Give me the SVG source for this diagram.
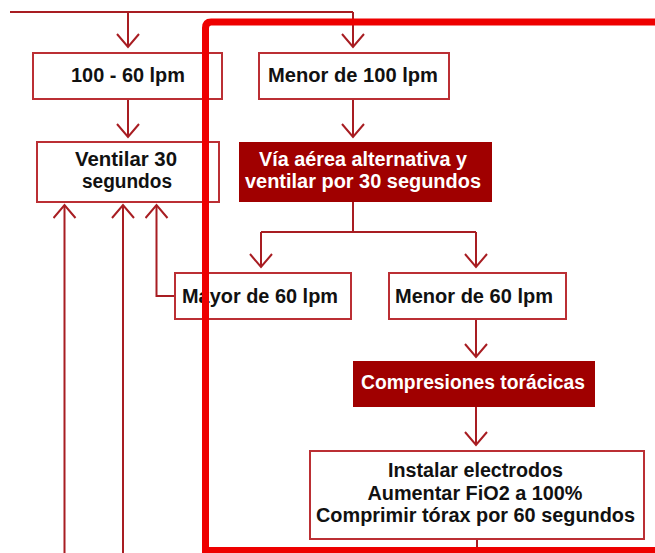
<svg xmlns="http://www.w3.org/2000/svg" width="655" height="553" viewBox="0 0 655 553">
<style>
.box{fill:#ffffff;stroke:#bb2f34;stroke-width:2}
.dark{fill:#a00000;stroke:none}
.t{font-family:"Liberation Sans",Arial,sans-serif;font-weight:bold;font-size:20px;fill:#111111;text-anchor:middle}
.w{fill:#ffffff}
.c{fill:none;stroke:#a81d22;stroke-width:2}
.frame{fill:none;stroke:#ee0000;stroke-width:7}
</style>
<defs>
<marker id="ah" markerUnits="userSpaceOnUse" viewBox="-14 -12 16 24" refX="0" refY="0" markerWidth="16" markerHeight="24" orient="auto">
<path d="M-13,-11 L0,0 L-13,11" fill="none" stroke="#a81d22" stroke-width="2"/>
</marker>
</defs>
<rect width="655" height="553" fill="#ffffff"/>
<g id="connectors">
<path class="c" d="M10,12 L353,12"/>
<path class="c" d="M128,12 L128,47" marker-end="url(#ah)"/>
<path class="c" d="M353,12 L353,47" marker-end="url(#ah)"/>
<path class="c" d="M128,99 L128,137" marker-end="url(#ah)"/>
<path class="c" d="M353,99 L353,137" marker-end="url(#ah)"/>
<path class="c" d="M353,202 L353,232"/>
<path class="c" d="M261,232 L476,232"/>
<path class="c" d="M261,232 L261,267" marker-end="url(#ah)"/>
<path class="c" d="M476,232 L476,267" marker-end="url(#ah)"/>
<path class="c" d="M476,319 L476,357" marker-end="url(#ah)"/>
<path class="c" d="M476,407 L476,445" marker-end="url(#ah)"/>
<path class="c" d="M477,539 L477,551"/>
<path class="c" d="M175,296 L156.5,296 L156.5,205" marker-end="url(#ah)"/>
<path class="c" d="M64.5,553 L64.5,205" marker-end="url(#ah)"/>
<path class="c" d="M123,553 L123,205" marker-end="url(#ah)"/>
</g>
<g id="n100-60">
<rect class="box" x="33" y="53" width="189" height="46"/>
<text class="t" x="128" y="82" textLength="114" lengthAdjust="spacingAndGlyphs">100 - 60 lpm</text>
</g>
<g id="menor100">
<rect class="box" x="259" y="53" width="190" height="46"/>
<text class="t" x="353" y="82" textLength="170" lengthAdjust="spacingAndGlyphs">Menor de 100 lpm</text>
</g>
<g id="ventilar30">
<rect class="box" x="37" y="142" width="182" height="60"/>
<text class="t" x="126" y="166" textLength="102" lengthAdjust="spacingAndGlyphs">Ventilar 30</text>
<text class="t" x="127" y="188" textLength="90" lengthAdjust="spacingAndGlyphs">segundos</text>
</g>
<g id="viaaerea">
<rect class="dark" x="239" y="142" width="253" height="60"/>
<text class="t w" x="363" y="166" textLength="208" lengthAdjust="spacingAndGlyphs">Vía aérea alternativa y</text>
<text class="t w" x="363" y="188" textLength="236" lengthAdjust="spacingAndGlyphs">ventilar por 30 segundos</text>
</g>
<g id="mayor60">
<rect class="box" x="175" y="273" width="176" height="46"/>
<text class="t" x="260" y="303" textLength="156" lengthAdjust="spacingAndGlyphs">Mayor de 60 lpm</text>
</g>
<g id="menor60">
<rect class="box" x="389" y="273" width="177" height="46"/>
<text class="t" x="474" y="303" textLength="158" lengthAdjust="spacingAndGlyphs">Menor de 60 lpm</text>
</g>
<g id="compresiones">
<rect class="dark" x="353" y="361" width="242" height="46"/>
<text class="t w" x="473" y="389" textLength="224" lengthAdjust="spacingAndGlyphs">Compresiones torácicas</text>
</g>
<g id="instalar">
<rect class="box" x="310" y="451" width="334" height="88"/>
<text class="t" x="475.5" y="477" textLength="175" lengthAdjust="spacingAndGlyphs">Instalar electrodos</text>
<text class="t" x="475" y="500" textLength="215" lengthAdjust="spacingAndGlyphs">Aumentar FiO2 a 100%</text>
<text class="t" x="475.5" y="522" textLength="319" lengthAdjust="spacingAndGlyphs">Comprimir tórax por 60 segundos</text>
</g>
<g id="frame">
<path class="frame" d="M660,22 L211,22 Q205.5,22 205.5,28 L205.5,550.5 L660,550.5"/>
</g>
</svg>
